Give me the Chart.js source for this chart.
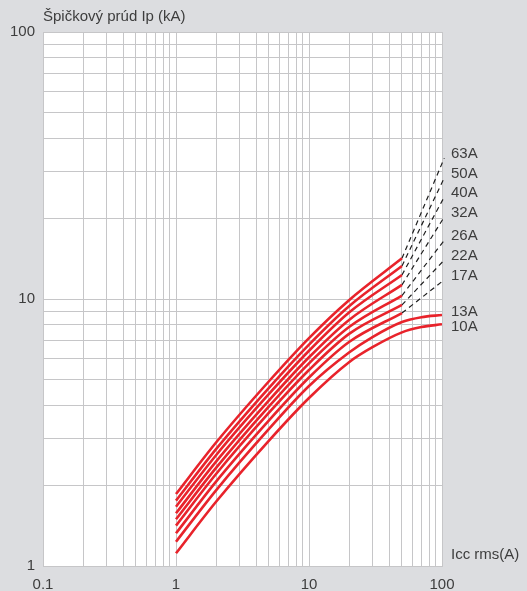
<!DOCTYPE html>
<html lang="sk">
<head>
<meta charset="utf-8">
<script src="https://cdn.jsdelivr.net/npm/chart.js@4.4.1/dist/chart.umd.min.js"></script>
<style>
  html, body { margin: 0; padding: 0; background: #dcdde0; }
  canvas { display: block; }
</style>
</head>
<body>
<canvas id="grafico" width="527" height="591"></canvas>
<script>
// Valores (Ip en kA contra Icc rms en A)
const corrientes = [1, 2, 5, 10, 20, 50];
const corrientesLargas = [1, 2, 5, 10, 20, 30, 50, 70, 100];

const ip63 = [1.86, 2.90, 4.92, 7.14, 9.9, 14.2];
const ip50 = [1.757, 2.74, 4.65, 6.75, 9.4, 13.3];
const ip40 = [1.668, 2.60, 4.41, 6.40, 8.9, 12.3];
const ip32 = [1.576, 2.46, 4.17, 6.05, 8.35, 11.3];
const ip26 = [1.496, 2.33, 3.96, 5.74, 7.85, 10.3];
const ip22 = [1.416, 2.21, 3.75, 5.42, 7.4, 9.5];
const ip17 = [1.326, 2.07, 3.51, 5.08, 6.9, 8.86];
const ip13 = [1.233, 1.92, 3.26, 4.72, 6.3, 7.2, 8.2, 8.55, 8.71];
const ip10 = [1.116, 1.74, 2.95, 4.26, 5.8, 6.6, 7.5, 7.85, 8.04];

// tramos a trazos (63A ... 17A) hasta el borde derecho
const corrienteFinal = 104;
const ipFinal = [33.7, 28.4, 24.1, 20.3, 16.6, 14.0, 11.8];

const calibres = ['63A', '50A', '40A', '32A', '26A', '22A', '17A', '13A', '10A'];
const ticksEjeX = [0.1, 1, 10, 100];
const ticksEjeY = [1, 10, 100];

const ROJO = '#e8232b';
const GRIS = '#c6c6c8';
const TEXTO = '#3d3d3d';
const FUENTE = '"Liberation Sans", Arial, Helvetica, sans-serif';

const curvas = [ip63, ip50, ip40, ip32, ip26, ip22, ip17, ip13, ip10];
const datasets = [];
curvas.forEach((serie, i) => {
  const xs = serie.length === corrientesLargas.length ? corrientesLargas : corrientes;
  const roja = {
    data: serie.map((y, j) => ({ x: xs[j], y: y })),
    borderColor: ROJO,
    borderWidth: 2.6,
    cubicInterpolationMode: 'monotone'
  };
  if (i >= ipFinal.length) {
    roja.etiqueta = calibres[i];
    roja.desplazamiento = i === curvas.length - 1 ? 3 : -3;
  }
  datasets.push(roja);

  if (i < ipFinal.length) {
    datasets.push({
      data: [{ x: corrientes[corrientes.length - 1], y: serie[serie.length - 1] },
             { x: corrienteFinal, y: ipFinal[i] }],
      borderColor: '#1e1e1e',
      borderWidth: 1.2,
      borderDash: [5, 4],
      clip: false,
      etiqueta: calibres[i],
      desplazamiento: -4
    });
  }
});

// solo lineas en 1..9 x 10^n (v4 mete 1.5, 15...)
function soloEnteros(scale) {
  scale.ticks = scale.ticks.filter(t => {
    const m = t.value / Math.pow(10, Math.floor(Math.log10(t.value) + 1e-9));
    return Math.abs(m - Math.round(m)) < 1e-6;
  });
}

function etiquetaTick(lista) {
  return function (valor) {
    const v = lista.find(t => Math.abs(t - valor) / t < 1e-6);
    return v === undefined ? '' : String(v);
  };
}

const textos = {
  id: 'textos',
  beforeDraw(chart) {
    const { ctx, chartArea } = chart;
    ctx.save();
    ctx.fillStyle = '#ffffff';
    ctx.fillRect(chartArea.left, chartArea.top, chartArea.right - chartArea.left, chartArea.bottom - chartArea.top);
    ctx.restore();
  },
  afterDraw(chart) {
    const { ctx, chartArea } = chart;
    ctx.save();
    ctx.font = '15px ' + FUENTE;
    ctx.fillStyle = TEXTO;
    ctx.textBaseline = 'middle';
    ctx.textAlign = 'left';
    ctx.fillText('Špičkový prúd Ip (kA)', chartArea.left, chartArea.top - 15);
    ctx.fillText('Icc rms(A)', chartArea.right + 9, chartArea.bottom - 11);
    chart.data.datasets.forEach((ds, i) => {
      if (!ds.etiqueta) return;
      const meta = chart.getDatasetMeta(i);
      const p = meta.data[meta.data.length - 1];
      ctx.fillText(ds.etiqueta, chartArea.right + 9, p.y + ds.desplazamiento);
    });
    ctx.restore();
  }
};

new Chart(document.getElementById('grafico'), {
  type: 'line',
  data: { datasets: datasets },
  options: {
    responsive: false,
    animation: false,
    layout: { padding: { left: 2, right: 85, top: 32, bottom: -13 } },
    elements: { point: { radius: 0 } },
    plugins: { legend: { display: false }, tooltip: { enabled: false } },
    scales: {
      x: {
        type: 'logarithmic',
        min: 0.1,
        max: 100,
        afterBuildTicks: soloEnteros,
        grid: { color: GRIS, drawTicks: false },
        border: { color: GRIS },
        ticks: {
          autoSkip: false,
          maxRotation: 0,
          padding: 10,
          color: TEXTO,
          font: { family: FUENTE, size: 15 },
          callback: etiquetaTick(ticksEjeX)
        }
      },
      y: {
        type: 'logarithmic',
        min: 1,
        max: 100,
        afterBuildTicks: soloEnteros,
        grid: { color: GRIS, drawTicks: false },
        border: { color: GRIS },
        ticks: {
          autoSkip: false,
          padding: 8,
          color: TEXTO,
          font: { family: FUENTE, size: 15 },
          callback: etiquetaTick(ticksEjeY)
        }
      }
    }
  },
  plugins: [textos]
});
</script>
</body>
</html>
